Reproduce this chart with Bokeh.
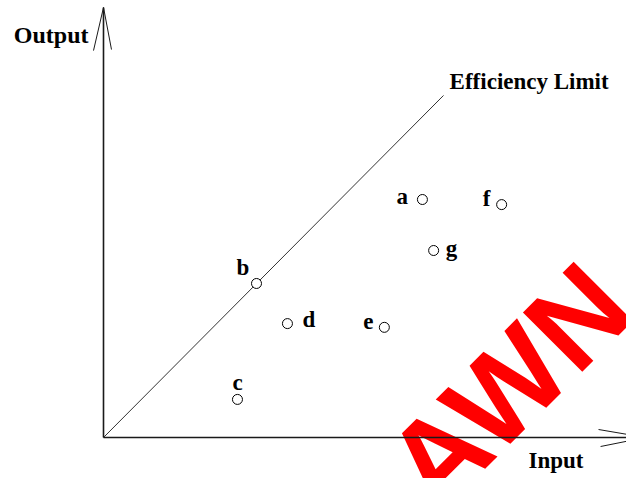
import math
from bokeh.plotting import figure
from bokeh.models import Range1d, ColumnDataSource, Label
from bokeh.core.properties import value
from bokeh.embed import file_html
from bokeh.resources import INLINE

# ---- data (input / output units) ----
names = ["a", "b", "c", "d", "e", "f", "g"]
inputs = [9.38, 4.50, 3.94, 5.41, 8.26, 11.71, 9.71]
outputs = [7.00, 4.53, 1.12, 3.35, 3.24, 6.85, 5.50]

frontier_x = [0.0, 10.0]
frontier_y = [0.0, 10.06]

# label offsets in screen pixels (dx right, dy down)
label_dx = [-26, -20, -5, 15, -21, -19, 12]
label_dy = [5, -8, -9, 4, 2, 2, 6]

SERIF = "Liberation Serif"
TXT_SHIFT = 8  # px, compensates baseline rendering in svg

p = figure(width=626, height=478,
           x_range=Range1d(-103 / 34, 523 / 34), y_range=Range1d(-41 / 34, 437 / 34),
           output_backend="svg", toolbar_location=None, min_border=0)
p.min_border_left = p.min_border_right = p.min_border_top = p.min_border_bottom = 0
p.axis.visible = False
p.grid.visible = False
p.outline_line_color = None
p.background_fill_color = "white"
p.border_fill_color = "white"

# red watermark fragment (beneath the drawing)
p.add_layout(Label(x=8.95, y=-1.45, text="AWN", angle=math.pi / 4,
                   text_font="Liberation Sans", text_font_style="bold",
                   text_font_size="122px", level="underlay",
                   text_color="#ff0000", text_baseline="alphabetic", text_align="left"))

# axes drawn as lines with open arrowheads
ax_col = "#1a1a1a"
p.line([0, 0], [0, 12.65], line_color=ax_col, line_width=1.6)
p.line([0, 15.94], [0, 0], line_color=ax_col, line_width=1.6)
p.line([-0.294, 0, 0.235], [11.38, 12.65, 11.41], line_color=ax_col, line_width=1)
p.line([14.56, 15.94, 14.62], [0.235, 0, -0.265], line_color=ax_col, line_width=1)

# efficiency limit
p.line(frontier_x, frontier_y, line_color="#333333", line_width=1)

src = ColumnDataSource(dict(x=inputs, y=outputs, name=names,
                            dx=label_dx, dy=[d - TXT_SHIFT for d in label_dy]))
p.scatter("x", "y", source=src, size=10, marker="circle",
          fill_color="white", line_color="black", line_width=1)
p.text("x", "y", text="name", source=src, x_offset="dx", y_offset="dy",
       text_font=value(SERIF), text_font_style="bold", text_font_size="23px",
       text_color="black", text_baseline="alphabetic", text_align="left")

# titles
sh = TXT_SHIFT / 34


def t(x, y, s, align="left", size="23px"):
    p.add_layout(Label(x=x, y=y + sh, text=s, text_font=SERIF, text_font_style="bold",
                       text_font_size=size, text_color="black",
                       text_baseline="alphabetic", text_align=align))


t(-0.44, 11.59, "Output", "right", "24px")
t(12.50, -0.91, "Input")
t(10.18, 10.24, "Efficiency Limit")

open("out.html", "w").write(file_html(p, INLINE))
